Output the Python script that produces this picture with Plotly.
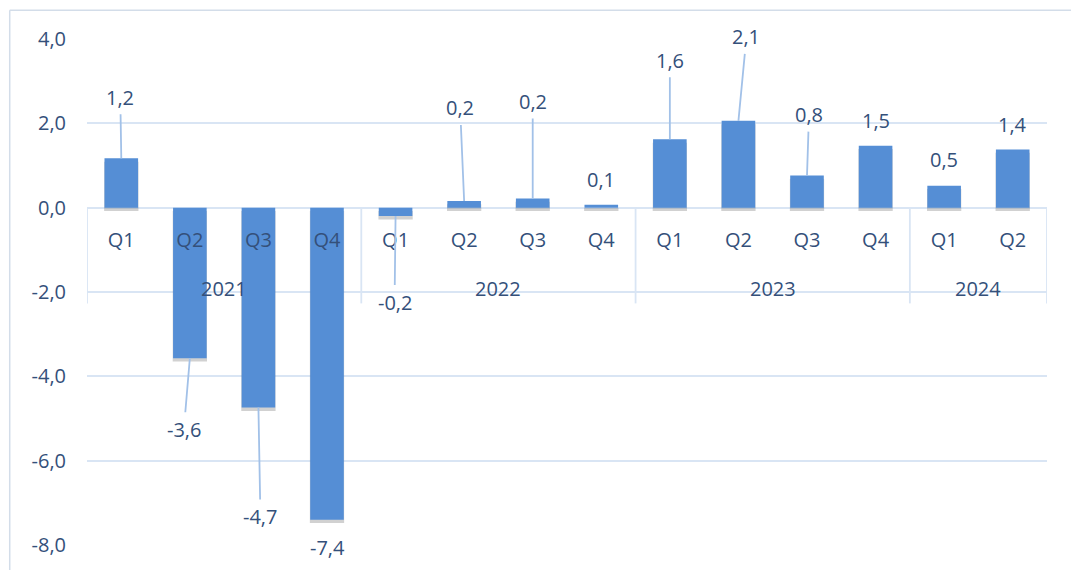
import plotly.graph_objects as go

# ---- data ----
years = ["2021", "2021", "2021", "2021",
         "2022", "2022", "2022", "2022",
         "2023", "2023", "2023", "2023",
         "2024", "2024"]
quarters = ["Q1", "Q2", "Q3", "Q4", "Q1", "Q2", "Q3", "Q4",
            "Q1", "Q2", "Q3", "Q4", "Q1", "Q2"]
values = [1.17, -3.57, -4.74, -7.40, -0.20, 0.16, 0.22, 0.07,
          1.62, 2.06, 0.76, 1.47, 0.52, 1.38]
y_ticks = [4, 2, 0, -2, -4, -6, -8]

# label placement (pixel offsets from the bar end) and leader line flag
label_dx = [-1, -6, 2, 0, -1, -4, 0, 0, 0, 8, 2, 0, 0, 0]
label_dy = [-61, 71, 109, 28, 86, -93, -97, -25, -79, -84, -61, -25, -26, -25]
leader = [True, True, True, False, True, True, True, False,
          True, True, True, False, False, False]

BAR = "#558ed5"
GRID = "#d9e5f4"
TXT = "#34507a"
LEADER = "#a2c1e8"
FONT = "Open Sans, Noto Sans, sans-serif"
FS = 20
SHADOW_OFFSET = 0.08


def fmt(v):
    return f"{v:.1f}".replace(".", ",")


x = list(range(len(values)))

fig = go.Figure()
# soft drop shadow beneath bars
fig.add_trace(go.Bar(
    x=x, y=values, base=[-SHADOW_OFFSET] * len(values), width=0.5,
    marker=dict(color="rgba(90,90,90,0.28)", line=dict(width=0)),
    hoverinfo="skip", showlegend=False,
))
fig.add_trace(go.Bar(
    x=x, y=values, width=0.49, marker=dict(color=BAR, line=dict(width=0)),
    hoverinfo="skip", showlegend=False,
))

annotations = []
for i, v in enumerate(values):
    txt = fmt(v)
    if leader[i]:
        annotations.append(dict(
            x=i, y=v, xref="x", yref="y", text=txt,
            showarrow=True, arrowhead=0, arrowwidth=1.8, arrowcolor=LEADER,
            standoff=0, startstandoff=2, ax=label_dx[i], ay=label_dy[i],
            font=dict(family=FONT, size=FS, color=TXT),
        ))
    else:
        annotations.append(dict(
            x=i, y=v, xref="x", yref="y", text=txt, showarrow=False,
            xshift=label_dx[i], yshift=-label_dy[i],
            font=dict(family=FONT, size=FS, color=TXT),
        ))

# year group labels and dividers
groups = []
for i, yv in enumerate(years):
    if not groups or groups[-1][0] != yv:
        groups.append([yv, i, i])
    else:
        groups[-1][2] = i

shapes = []
bounds = set()
for name, a, b in groups:
    annotations.append(dict(
        x=(a + b) / 2, y=0, xref="x", yref="y", text=name, showarrow=False,
        yshift=-81, yanchor="middle",
        font=dict(family=FONT, size=FS, color=TXT),
    ))
    bounds.add(a - 0.5)
    bounds.add(b + 0.5)
for bx in sorted(bounds):
    shapes.append(dict(type="line", xref="x", yref="y", x0=bx, x1=bx,
                       y0=0, y1=-2.27, line=dict(color=GRID, width=1.8)))

# outer chart border (top and left edges visible)
shapes.append(dict(type="line", xref="paper", yref="paper",
                   x0=-0.0805, x1=3, y0=1.057, y1=1.057,
                   line=dict(color="#d3dde9", width=1.5), layer="below"))
shapes.append(dict(type="line", xref="paper", yref="paper",
                   x0=-0.0805, x1=-0.0805, y0=-2, y1=1.057,
                   line=dict(color="#d3dde9", width=1.5), layer="below"))

fig.update_layout(
    width=1071, height=570,
    margin=dict(l=87, r=24, t=39, b=22),
    paper_bgcolor="white", plot_bgcolor="white",
    separators=", ",
    font=dict(family=FONT, size=FS, color=TXT),
    barmode="overlay",
    hovermode=False,
    annotations=annotations,
    shapes=shapes,
    xaxis=dict(
        range=[-0.5, len(values) - 0.5],
        tickvals=x, ticktext=quarters,
        showgrid=False, zeroline=False, showline=False,
        anchor="free", position=8 / 12,
        ticks="", ticklabelstandoff=18,
        tickfont=dict(family=FONT, size=FS, color=TXT),
    ),
    yaxis=dict(
        range=[-8, 4], tickvals=y_ticks, ticktext=[fmt(t) for t in y_ticks],
        showgrid=True, gridcolor=GRID, gridwidth=1.8,
        zeroline=True, zerolinecolor=GRID, zerolinewidth=1.8,
        showline=False, ticks="", ticklabelstandoff=20,
        tickfont=dict(family=FONT, size=FS, color=TXT),
    ),
)

fig.write_html(
    "out.html",
    config={"displayModeBar": False},
    post_script="document.body.style.margin='0';document.body.style.overflow='hidden';",
)
